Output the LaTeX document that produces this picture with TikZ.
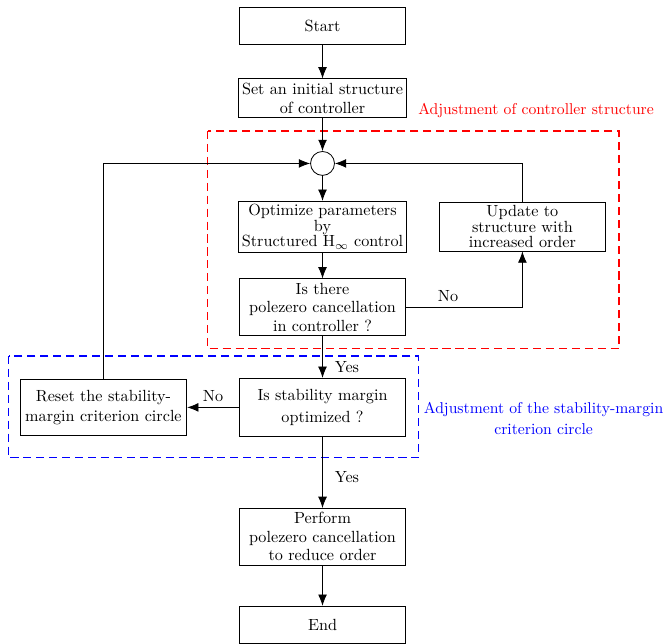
\documentclass[tikz,border=0pt]{standalone}
\usepackage{tikz}
\usetikzlibrary{arrows.meta, positioning, calc}
\tikzset{
  blk/.style={
    rectangle, draw=black, fill=white,
    minimum width=103pt, minimum height=#1,
    align=center, inner sep=2pt
  },
  blk/.default=23pt,
  sumnode/.style={circle, draw=black, fill=white, minimum size=14.8pt, inner sep=0pt},
  arr/.style={->, >={Latex[length=7pt, width=5.5pt]}},
  redbox/.style={draw=red, line width=0.7pt, dash pattern=on 5pt off 3pt},
  bluebox/.style={draw=blue, line width=0.7pt, dash pattern=on 5pt off 3pt},
  grplbl/.style={font=\fontsize{9.7pt}{12pt}\selectfont}
}

\begin{document}
\begin{tikzpicture}[node distance=0pt, line width=0.5pt]
  \useasboundingbox (-199.5pt,15.8pt) rectangle (213.7pt,-382.5pt);

  \node[blk] (start) {Start};
  \node[blk=24pt, below=21pt of start] (init) {Set an initial structure\\of controller};
  \node[sumnode, below=20.4pt of init] (sum) {};
  \node[blk=31.5pt, below=15.5pt of sum, inner ysep=1pt] (opt) {Optimize parameters\\[-2.5pt]by\\[-2.5pt]Structured H$_\infty$ control};
  \node[blk=35pt, below=16pt of opt] (pzc) {Is there\\[-0.5pt]polezero cancellation\\[-0.5pt]in controller ?};
  \node[blk=30pt, right=19.8pt of opt, inner ysep=1pt] (upd) {Update to\\[-2.5pt]structure with\\[-2.5pt]increased order};
  \node[blk=36pt, below=26pt of pzc] (stab) {Is stability margin\\[2pt]optimized ?};
  \node[blk=35pt, left=32pt of stab] (rst) {Reset the stability-\\margin criterion circle};
  \node[blk=35pt, below=44pt of stab] (perf) {Perform\\[-0.5pt]polezero cancellation\\[-0.5pt]to reduce order};
  \node[blk, below=25pt of perf] (fin) {End};

  % dashed groups
  \coordinate (rnw) at ($(opt.west |- sum.north)+(-19pt,12.4pt)$);
  \coordinate (rse) at ($(upd.east |- pzc.south)+(8pt,-8pt)$);
  \draw[redbox] (rnw) rectangle (rse);
  \node[grplbl, text=red] (rlbl) at ($(rse |- rnw)+(-51.3pt,12.4pt)$) {Adjustment of controller structure};

  \coordinate (bnw) at ($(rst.north west)+(-6.8pt,14pt)$);
  \coordinate (bse) at ($(stab.south east)+(7.4pt,-13pt)$);
  \draw[bluebox] (bnw) rectangle (bse);
  \node[grplbl, text=blue, align=center, right] (blbl) at ($(bse |- stab.east)+(0pt,-6.8pt)$)
    {Adjustment of the stability-margin\\[1pt]criterion circle};

  \draw[arr] (start) -- (init);
  \draw[arr] (init)  -- (sum);
  \draw[arr] (sum)   -- (opt);
  \draw[arr] (opt)   -- (pzc);
  \draw[arr] (pzc)   -- node[pos=0.74, right, xshift=4pt]{Yes} (stab);
  \draw[arr] (stab)  -- node[pos=0.56, right, xshift=4pt]{Yes} (perf);
  \draw[arr] (perf)  -- (fin);

  \draw[arr] (pzc) -| node[pos=0.18, above]{No} (upd);
  \draw[arr] (upd) |- (sum);
  \draw[arr] (stab) -- node[above]{No} (rst);
  \draw[arr] (rst) |- (sum);

\end{tikzpicture}
\end{document}
